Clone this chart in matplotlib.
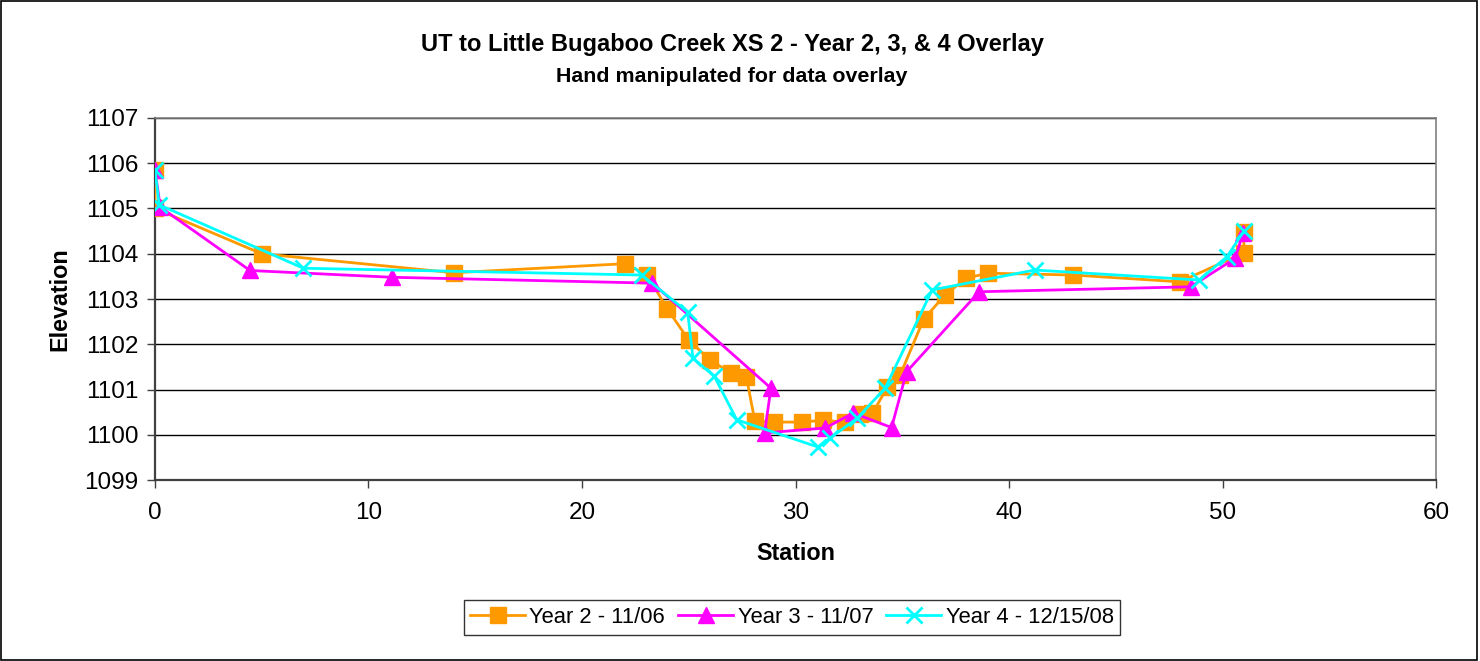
import matplotlib
matplotlib.use("Agg")
import matplotlib.pyplot as plt
from matplotlib.patches import Rectangle

plt.rcParams['font.family'] = ['Liberation Sans', 'DejaVu Sans']

title = "UT to Little Bugaboo Creek XS 2 - Year 2, 3, & 4 Overlay"
subtitle = "Hand manipulated for data overlay"

y2_label = "Year 2 - 11/06"
y2_x = [0, 0, 5.0, 14.0, 22.0, 23.05, 24.0, 25.0, 26.0, 27.0, 27.7, 28.1, 29.0, 30.3, 31.3, 32.3, 33.0, 33.6, 34.3, 34.9, 36.0, 37.0, 38.0, 39.0, 43.0, 48.0, 51.0, 51.0]
y2_y = [1105.85, 1105.0, 1104.0, 1103.58, 1103.78, 1103.53, 1102.78, 1102.09, 1101.65, 1101.36, 1101.27, 1100.30, 1100.28, 1100.28, 1100.32, 1100.28, 1100.45, 1100.47, 1101.05, 1101.32, 1102.55, 1103.09, 1103.46, 1103.57, 1103.53, 1103.38, 1104.02, 1104.48]

y3_label = "Year 3 - 11/07"
y3_x = [0, 0.25, 4.45, 11.1, 23.3, 28.85, 28.55, 31.4, 32.7, 34.5, 35.2, 38.6, 48.5, 50.6, 50.95]
y3_y = [1105.85, 1105.03, 1103.63, 1103.48, 1103.35, 1101.03, 1100.04, 1100.15, 1100.48, 1100.16, 1101.39, 1103.16, 1103.27, 1103.9, 1104.45]

y4_label = "Year 4 - 12/15/08"
y4_x = [0, 0.2, 6.95, 22.8, 24.95, 25.2, 26.2, 27.25, 31.05, 31.6, 32.9, 34.2, 36.4, 41.2, 48.9, 50.2, 51.0]
y4_y = [1105.85, 1105.08, 1103.68, 1103.53, 1102.71, 1101.69, 1101.29, 1100.33, 1099.73, 1099.92, 1100.37, 1101.03, 1103.2, 1103.64, 1103.42, 1103.93, 1104.5]

x_ticks = [0, 10, 20, 30, 40, 50, 60]
y_ticks = [1099, 1100, 1101, 1102, 1103, 1104, 1105, 1106, 1107]

fig = plt.figure(figsize=(14.8, 6.61), dpi=100)
ax = fig.add_axes([0.1047, 0.2738, 0.8656, 0.5477])

ax.plot(y2_x, y2_y, color='#FF9900', lw=2, marker='s', ms=11.5, mec='#FF9900', label=y2_label, zorder=3)
ax.plot(y3_x, y3_y, color='#FF00FF', lw=2, marker='^', ms=11.5, label=y3_label, zorder=4)
ax.plot(y4_x, y4_y, color='#00FFFF', lw=2, marker='x', ms=11, mew=2, label=y4_label, zorder=5)

ax.set_xlim(0, 60)
ax.set_ylim(1099, 1107)
ax.set_xticks(x_ticks)
ax.set_yticks(y_ticks)
ax.tick_params(labelsize=17.5, direction='out', length=6, width=1, color='#404040')
ax.tick_params(axis='y', pad=6)
ax.tick_params(axis='x', pad=10)
ax.yaxis.grid(True, color='black', lw=1)
ax.set_axisbelow(True)
for s in ['top', 'right']:
    ax.spines[s].set_color('#808080')
    ax.spines[s].set_linewidth(1.2)
for s in ['left', 'bottom']:
    ax.spines[s].set_color('#404040')
    ax.spines[s].set_linewidth(1.6)

ax.set_xlabel("Station", fontsize=16.8, fontweight='bold', va='center')
ax.xaxis.set_label_coords(0.5, (480 - 553) / 362)
ax.set_ylabel("Elevation", fontsize=16.8, fontweight='bold', va='center')
ax.yaxis.set_label_coords((60 - 155) / 1281, 0.5)

fig.text(0.5 - 8/1480, 1 - 45/661, title, ha='center', va='center', fontsize=17, fontweight='bold')
fig.text(0.5 - 8/1480, 1 - 77/661, subtitle, ha='center', va='center', fontsize=15.4, fontweight='bold')

leg = fig.legend(loc='center', bbox_to_anchor=(792/1480, 1 - 617.5/661), ncol=3, fontsize=15.8,
                 frameon=True, fancybox=False, edgecolor='black', handlelength=2.5,
                 columnspacing=0.6, handletextpad=0.2, borderpad=0.3, borderaxespad=0)
leg.get_frame().set_linewidth(1)

fig.patches.append(Rectangle((0.001, 0.002), 0.997, 0.996, transform=fig.transFigure,
                             fill=False, edgecolor='black', lw=1.2))

fig.savefig("out.png", dpi=100)
